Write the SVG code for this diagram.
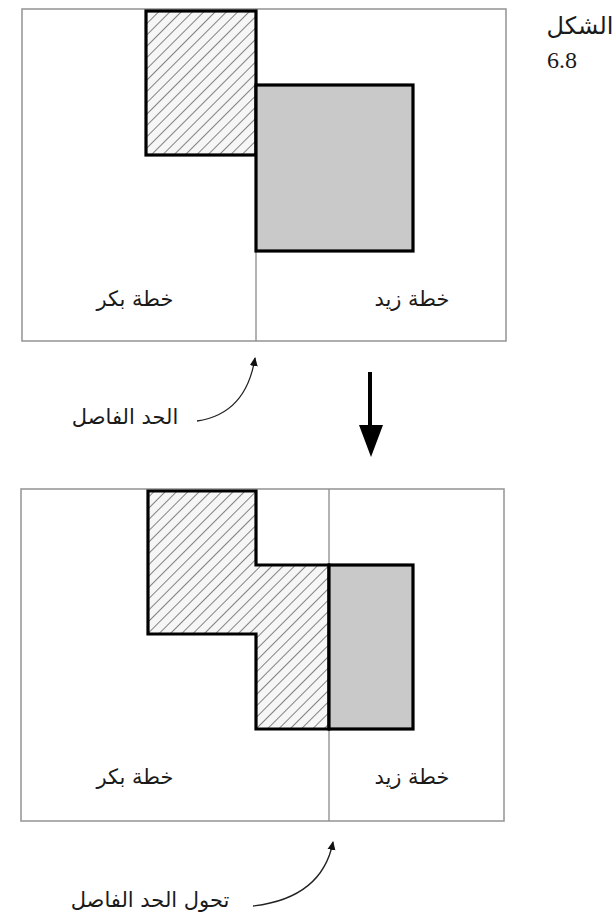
<svg xmlns="http://www.w3.org/2000/svg" width="616" height="919" viewBox="0 0 616 919">
<style>
.frame{fill:#fff;stroke:#9a9a9a;stroke-width:1.6}
.div{stroke:#8a8a8a;stroke-width:1.3;fill:none}
.hatch{fill:url(#hatch);stroke:#000;stroke-width:3.2;stroke-linejoin:miter}
.grey{fill:#c9c9c9;stroke:#000;stroke-width:3.2}
.ar{font-family:"DejaVu Sans","Noto Sans",sans-serif;font-size:21px;fill:#1a1a1a;text-anchor:middle}
.num{font-family:"Liberation Serif","Times New Roman",serif;font-size:24px;fill:#1a1a1a}
.lead{fill:none;stroke:#222;stroke-width:1.3}
</style>
<defs>
<pattern id="hatch" patternUnits="userSpaceOnUse" width="8" height="8" patternTransform="rotate(45)">
<rect width="8" height="8" fill="#f6f6f6"/>
<line x1="0" y1="0" x2="0" y2="8" stroke="#222" stroke-width="1.1"/>
</pattern>
<marker id="small" markerWidth="10" markerHeight="10" refX="8" refY="5" orient="auto" markerUnits="userSpaceOnUse">
<path d="M0,1 L9,5 L0,9 Z" fill="#111"/>
</marker>
</defs>

<g id="title">
<text class="ar" x="580" y="34" style="font-size:24px">الشكل</text>
<text class="num" x="547" y="68">6.8</text>
</g>

<g id="panel-before">
<rect class="frame" x="22" y="9" width="484" height="332"/>
<line class="div" x1="256" y1="9" x2="256" y2="341"/>
<rect class="hatch" x="146" y="11" width="110" height="144"/>
<rect class="grey" x="256" y="85" width="157" height="166"/>
<text class="ar" x="135" y="306">خطة بكر</text>
<text class="ar" x="412" y="306">خطة زيد</text>
</g>

<g id="panel-after">
<rect class="frame" x="21" y="489" width="483" height="332"/>
<line class="div" x1="329" y1="489" x2="329" y2="821"/>
<polygon class="hatch" points="148,491 256,491 256,565 329,565 329,729 256,729 256,634 148,634"/>
<rect class="grey" x="329" y="565" width="84" height="164"/>
<text class="ar" x="135" y="784">خطة بكر</text>
<text class="ar" x="412" y="784">خطة زيد</text>
</g>

<g id="label-boundary">
<text class="ar" x="125" y="424">الحد الفاصل</text>
</g>
<g id="label-shift">
<text class="ar" x="150" y="907">تحول الحد الفاصل</text>
</g>

<g id="connectors">
<path class="lead" d="M197,421 Q246,414 255,358" marker-end="url(#small)"/>
<path class="lead" d="M253,906 Q322,898 333,842" marker-end="url(#small)"/>
<line x1="370" y1="372" x2="370" y2="428" stroke="#000" stroke-width="4"/>
<polygon points="359,425 383,425 371,457" fill="#000"/>
</g>
</svg>
